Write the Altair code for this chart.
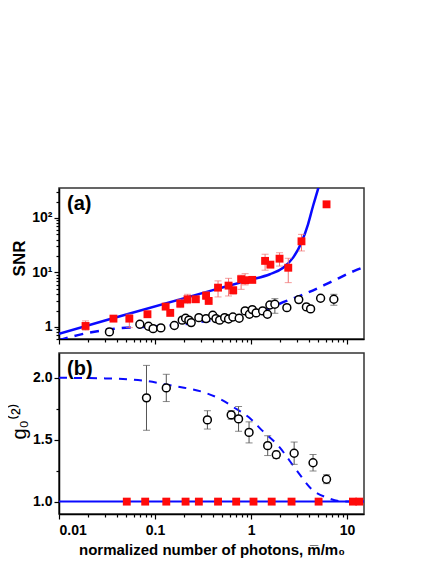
import altair as alt
import pandas as pd

# ---------------- data ----------------
# panel (a): SNR, red squares (with error bars)
a_red_x = [0.0189, 0.0369, 0.054, 0.0834, 0.129, 0.144, 0.183, 0.218, 0.266, 0.340, 0.362,
           0.453, 0.583, 0.652, 0.788, 0.867, 1.03, 1.40, 1.59, 1.98, 2.44, 3.35, 6.11]
a_red_y = [1.04, 1.42, 1.42, 1.71, 2.36, 1.81, 2.68, 3.22, 3.22, 3.75, 3.0,
           5.26, 5.73, 4.71, 7.5, 7.2, 7.3, 16.3, 13.9, 17.9, 12.2, 37.3, 178]
a_red_lo = [0.87, 1.32, 0.97, 1.62, 2.1, 1.72, 2.26, 2.68, 3.0, 3.2, 2.8,
            3.55, 3.7, 4.0, 4.9, 5.9, 6.8, 11.0, 13.0, 13.1, 6.5, 24.8, 165]
a_red_hi = [1.29, 1.52, 1.71, 1.80, 2.6, 1.9, 3.22, 3.97, 3.45, 4.4, 3.2,
            7.0, 7.8, 5.4, 8.9, 9.5, 7.8, 21.6, 14.8, 23.0, 18.2, 50.0, 192]

# panel (a): open circles
a_circ_x = [0.0335, 0.0695, 0.0855, 0.0955, 0.115, 0.159, 0.192, 0.208, 0.225, 0.238, 0.286,
            0.34, 0.399, 0.431, 0.471, 0.531, 0.583, 0.647, 0.752, 0.867, 0.962, 1.03, 1.13,
            1.32, 1.48, 1.57, 1.77, 2.36, 3.14, 3.77, 4.17, 5.3, 7.28]
a_circ_y = [0.81, 1.12, 1.03, 0.93, 0.96, 1.06, 1.33, 1.44, 1.33, 1.2, 1.48,
            1.42, 1.64, 1.42, 1.33, 1.48, 1.40, 1.52, 1.44, 1.97, 1.71, 2.08, 1.81,
            1.97, 1.71, 2.53, 2.61, 2.26, 3.17, 2.33, 2.14, 3.36, 3.22]
a_circ_err_x = [1.77, 7.28]
a_circ_err_lo = [1.78, 2.5]
a_circ_err_hi = [3.3, 3.97]

# panel (a): theory curves
a_solid_x = [0.01, 0.0364, 0.376, 0.976, 1.57, 2.16, 2.74, 3.34, 3.92, 4.42, 4.97, 5.15]
a_solid_y = [0.75, 1.44, 4.58, 7.3, 9.27, 12.2, 18.7, 35.2, 76.6, 166, 336, 420]
a_dash_x = [0.01, 0.017, 0.044, 0.074, 0.2, 0.35, 0.6, 1.15, 2.34, 3.76, 6.56, 11.9, 15]
a_dash_y = [0.57, 0.73, 0.95, 1.0, 1.12, 1.29, 1.5, 1.83, 3.0, 4.15, 6.5, 10.7, 12.6]

# panel (b): g2, open circles with error bars
b_circ_x = [0.0815, 0.131, 0.351, 0.621, 0.741, 0.953, 1.49, 1.83, 2.81, 4.42, 6.11]
b_circ_y = [1.838, 1.918, 1.66, 1.70, 1.668, 1.559, 1.452, 1.378, 1.391, 1.314, 1.181]
b_circ_e = [0.262, 0.11, 0.074, 0.035, 0.10, 0.085, 0.08, 0.03, 0.09, 0.066, 0.036]
# panel (b): red squares at g2 = 1
b_red_x = [0.0508, 0.079, 0.131, 0.208, 0.286, 0.453, 0.70, 1.06, 1.64, 2.64, 5.05, 11.5, 13.4]
b_red_y = [1.0] * len(b_red_x)
# panel (b): theory curves
b_dash_x = [0.01, 0.03, 0.08, 0.13, 0.2, 0.33, 0.5, 0.65, 1.0, 1.3, 1.9, 3.0, 4.2, 6.3, 9.4, 15]
b_dash_y = [2.0, 1.995, 1.975, 1.945, 1.92, 1.88, 1.82, 1.765, 1.665, 1.575, 1.455, 1.25,
            1.106, 1.03, 1.0, 1.0]
b_solid_x = [0.01, 15]
b_solid_y = [1.0, 1.0]

# axis tick values / labels
x_ticks = [0.01, 0.02, 0.03, 0.04, 0.05, 0.06, 0.07, 0.08, 0.09,
           0.1, 0.2, 0.3, 0.4, 0.5, 0.6, 0.7, 0.8, 0.9,
           1, 2, 3, 4, 5, 6, 7, 8, 9, 10]
ya_ticks = [0.6, 0.7, 0.8, 0.9, 1, 2, 3, 4, 5, 6, 7, 8, 9,
            10, 20, 30, 40, 50, 60, 70, 80, 90, 100, 200, 300]
yb_ticks = [1.0, 1.25, 1.5, 1.75, 2.0]

# ---------------- styling ----------------
FONT = "Liberation Sans"
BLUE = "#0a0aff"
RED = "#ff0a0a"
ERR_RED = "#f07070"
X_DOM = [0.01, 15]
W = 305

MAJOR = "abs(log(datum.value)/LN10 - round(log(datum.value)/LN10)) < 0.001"
tick_cond = {"condition": {"test": MAJOR, "value": 5}, "value": 3}

xs = alt.Scale(type="log", domain=X_DOM, nice=False)
ys_a = alt.Scale(type="log", domain=[0.6, 355], nice=False)
ys_b = alt.Scale(type="linear", domain=[0.9, 2.2], nice=False, zero=False)

x_axis_top = alt.Axis(values=x_ticks, labels=False, title=None, tickSize=tick_cond,
                      grid=False)
x_axis_bot = alt.Axis(values=x_ticks, title="normalized number of photons, m\u0305/m\u2080",
                      tickSize=tick_cond, grid=False,
                      labelExpr=(MAJOR + " ? (datum.value < 0.05 ? '0.01' : datum.value < 0.5 ? '0.1' : "
                                 "datum.value < 5 ? '1' : '10') : ''"),
                      labelFontSize=14, labelPadding=4,
                      titleFontSize=15, titleY=35, titleBaseline="middle")
y_axis_a = alt.Axis(values=ya_ticks, title="SNR", tickSize=tick_cond, grid=False,
                    labelExpr=("abs(datum.value-1)<0.001 ? '1' : abs(datum.value-10)<0.001 ? '10\u00b9' : "
                               "abs(datum.value-100)<0.001 ? '10\u00b2' : ''"),
                    labelFontSize=14, titleFontSize=17, titleX=-31, titleY=70)
y_axis_b = alt.Axis(values=yb_ticks, title="g\u2080\u207d\u00b2\u207e", grid=False,
                    tickSize={"condition": {"test": "abs(datum.value*2 - round(datum.value*2)) < 0.001",
                                            "value": 5}, "value": 3},
                    labelExpr="abs(datum.value*2 - round(datum.value*2)) < 0.001 ? format(datum.value, '.1f') : ''",
                    labelFontSize=14, titleFontSize=20, titleFontWeight="normal",
                    titleX=-30, titleY=68)


def df(**cols):
    return pd.DataFrame(cols)


# ---------------- panel (a) ----------------
Xa = alt.X("x:Q", scale=xs, axis=x_axis_top)
Ya = alt.Y("y:Q", scale=ys_a, axis=y_axis_a)

a_red_df = df(x=a_red_x, y=a_red_y, lo=a_red_lo, hi=a_red_hi)
a_circ_df = df(x=a_circ_x, y=a_circ_y)
a_cerr_df = df(x=a_circ_err_x, lo=a_circ_err_lo, hi=a_circ_err_hi)

a_solid = alt.Chart(df(x=a_solid_x, y=a_solid_y)).mark_line(
    color=BLUE, strokeWidth=2.5, clip=True, interpolate="monotone").encode(x=Xa, y=Ya)
a_dash = alt.Chart(df(x=a_dash_x, y=a_dash_y)).mark_line(
    color=BLUE, strokeWidth=2.5, strokeDash=[9, 7], clip=True, interpolate="monotone").encode(x=Xa, y=Ya)

a_red_err = alt.Chart(a_red_df).mark_rule(color=ERR_RED, strokeWidth=1).encode(
    x=Xa, y=alt.Y("lo:Q", scale=ys_a, axis=y_axis_a), y2="hi:Q")
a_red_cap_lo = alt.Chart(a_red_df).mark_tick(color=ERR_RED, orient="horizontal", size=7, thickness=1).encode(
    x=Xa, y=alt.Y("lo:Q", scale=ys_a, axis=y_axis_a))
a_red_cap_hi = alt.Chart(a_red_df).mark_tick(color=ERR_RED, orient="horizontal", size=7, thickness=1).encode(
    x=Xa, y=alt.Y("hi:Q", scale=ys_a, axis=y_axis_a))
a_red_pts = alt.Chart(a_red_df).mark_square(size=62, color=RED, opacity=1).encode(x=Xa, y=Ya)

a_cerr = alt.Chart(a_cerr_df).mark_rule(color="#555555", strokeWidth=1).encode(
    x=Xa, y=alt.Y("lo:Q", scale=ys_a, axis=y_axis_a), y2="hi:Q")
a_ccap_lo = alt.Chart(a_cerr_df).mark_tick(color="#555555", orient="horizontal", size=7, thickness=1).encode(
    x=Xa, y=alt.Y("lo:Q", scale=ys_a, axis=y_axis_a))
a_ccap_hi = alt.Chart(a_cerr_df).mark_tick(color="#555555", orient="horizontal", size=7, thickness=1).encode(
    x=Xa, y=alt.Y("hi:Q", scale=ys_a, axis=y_axis_a))
a_circ = alt.Chart(a_circ_df).mark_point(shape="circle", size=62, fill="white", fillOpacity=1,
                                         stroke="black", strokeWidth=1.5, opacity=1).encode(x=Xa, y=Ya)

a_label = alt.Chart(df(t=["(a)"])).mark_text(
    align="left", baseline="middle", font=FONT, fontSize=20, fontWeight="bold", color="black"
).encode(x=alt.value(8), y=alt.value(16), text="t:N")

panel_a = alt.layer(a_solid, a_dash, a_red_err, a_red_cap_lo, a_red_cap_hi, a_red_pts,
                    a_cerr, a_ccap_lo, a_ccap_hi, a_circ, a_label).properties(width=W, height=151)

# ---------------- panel (b) ----------------
Xb = alt.X("x:Q", scale=xs, axis=x_axis_bot)
Yb = alt.Y("y:Q", scale=ys_b, axis=y_axis_b)

b_circ_df = df(x=b_circ_x, y=b_circ_y,
               lo=[v - e for v, e in zip(b_circ_y, b_circ_e)],
               hi=[v + e for v, e in zip(b_circ_y, b_circ_e)])

b_solid = alt.Chart(df(x=b_solid_x, y=b_solid_y)).mark_line(
    color=BLUE, strokeWidth=2, clip=True).encode(x=Xb, y=Yb)
b_dash = alt.Chart(df(x=b_dash_x, y=b_dash_y)).mark_line(
    color=BLUE, strokeWidth=2, strokeDash=[8, 7], clip=True, interpolate="monotone").encode(x=Xb, y=Yb)
b_err = alt.Chart(b_circ_df).mark_rule(color="#555555", strokeWidth=1).encode(
    x=Xb, y=alt.Y("lo:Q", scale=ys_b, axis=y_axis_b), y2="hi:Q")
b_cap_lo = alt.Chart(b_circ_df).mark_tick(color="#555555", orient="horizontal", size=7, thickness=1).encode(
    x=Xb, y=alt.Y("lo:Q", scale=ys_b, axis=y_axis_b))
b_cap_hi = alt.Chart(b_circ_df).mark_tick(color="#555555", orient="horizontal", size=7, thickness=1).encode(
    x=Xb, y=alt.Y("hi:Q", scale=ys_b, axis=y_axis_b))
b_circ = alt.Chart(b_circ_df).mark_point(shape="circle", size=62, fill="white", fillOpacity=1,
                                         stroke="black", strokeWidth=1.5, opacity=1).encode(x=Xb, y=Yb)
b_red = alt.Chart(df(x=b_red_x, y=b_red_y)).mark_square(size=62, color=RED, opacity=1, clip=True).encode(x=Xb, y=Yb)

b_label = alt.Chart(df(t=["(b)"])).mark_text(
    align="left", baseline="middle", font=FONT, fontSize=20, fontWeight="bold", color="black"
).encode(x=alt.value(8), y=alt.value(16), text="t:N")

panel_b = alt.layer(b_solid, b_dash, b_err, b_cap_lo, b_cap_hi, b_circ, b_red, b_label
                    ).properties(width=W, height=161)

chart = alt.vconcat(panel_a, panel_b, spacing=6).properties(
    padding={"left": 0, "top": 179, "right": 5, "bottom": 5},
    background="white",
).configure_view(
    stroke="#333333", strokeWidth=1.5
).configure_axis(
    labelFont=FONT, titleFont=FONT, labelFontWeight="bold", titleFontWeight="bold",
    labelColor="black", titleColor="black", domainColor="black", tickColor="black",
    domainWidth=1.5, tickWidth=1.2, labelPadding=2
)

chart.save("out.html", embed_options={"renderer": "svg", "actions": False})
